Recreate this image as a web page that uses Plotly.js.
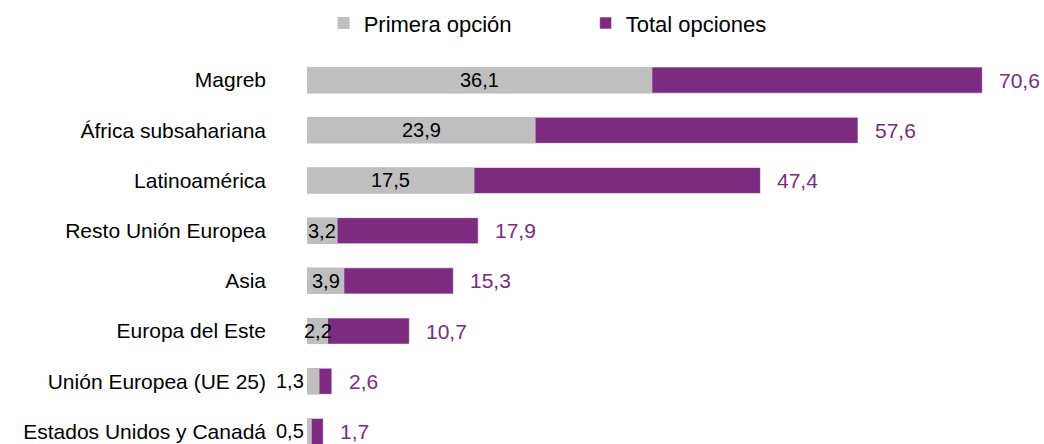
<!DOCTYPE html>
<html>
<head>
<meta charset="utf-8">
<script src="https://cdn.plot.ly/plotly-3.0.1.min.js"></script>
<style>html,body{margin:0;padding:0;background:#fff;}#chart{width:1044px;height:444px;}</style>
</head>
<body>
<div id="chart"></div>
<script>
const categories = ["Magreb", "África subsahariana", "Latinoamérica", "Resto Unión Europea", "Asia", "Europa del Este", "Unión Europea (UE 25)", "Estados Unidos y Canadá"];
const primeraOpcion = [36.1, 23.9, 17.5, 3.2, 3.9, 2.2, 1.3, 0.5];
const totalOpciones = [70.6, 57.6, 47.4, 17.9, 15.3, 10.7, 2.6, 1.7];

const GRAY = "#BFBFBF";
const PURPLE = "#7D2B80";
const FONT = "Liberation Sans, Arial, sans-serif";

const fmt = v => v.toFixed(1).replace(".", ",");

const traces = [
  {
    type: "bar", orientation: "h", name: "Total opciones",
    y: categories, x: totalOpciones,
    marker: {color: PURPLE, line: {color: "rgba(255,255,255,0.6)", width: 1}},
    hoverinfo: "x+y"
  },
  {
    type: "bar", orientation: "h", name: "Primera opción",
    y: categories, x: primeraOpcion,
    marker: {color: GRAY},
    hoverinfo: "x+y"
  }
];

const annotations = [];
categories.forEach((c, i) => {
  const p = primeraOpcion[i];
  const small = p < 2;
  annotations.push({
    x: small ? 0 : p / 2, y: c, xref: "x", yref: "y",
    text: fmt(p), showarrow: false,
    xanchor: small ? "right" : "center",
    xshift: small ? -1 : 0,
    font: {family: FONT, size: 20, color: "#000"}
  });
  annotations.push({
    x: totalOpciones[i], y: c, xref: "x", yref: "y",
    text: fmt(totalOpciones[i]), showarrow: false,
    xanchor: "left", xshift: 15,
    font: {family: FONT, size: 21, color: PURPLE}
  });
});

const layout = {
  width: 1044, height: 444,
  margin: {l: 307, r: 10, t: 55, b: 0, pad: 0},
  paper_bgcolor: "#fff", plot_bgcolor: "#fff",
  barmode: "overlay", bargap: 0.48,
  font: {family: FONT, size: 20, color: "#000"},
  showlegend: true,
  legend: {
    orientation: "h", x: 0.31, xanchor: "left", y: 0.995, yanchor: "top",
    yref: "container", xref: "container",
    traceorder: "reversed", entrywidth: 217,
    font: {family: FONT, size: 22, color: "#000"},
    bgcolor: "rgba(0,0,0,0)"
  },
  xaxis: {range: [0, 76], visible: false, fixedrange: true},
  yaxis: {
    type: "category", categoryorder: "array", categoryarray: categories,
    range: [7.25, -0.5], showgrid: false, zeroline: false, showline: false,
    ticks: "", ticklabelstandoff: 40,
    tickfont: {family: FONT, size: 21, color: "#000"}, fixedrange: true
  },
  annotations: annotations
};

Plotly.newPlot("chart", traces, layout, {displayModeBar: false, staticPlot: true});
</script>
</body>
</html>
